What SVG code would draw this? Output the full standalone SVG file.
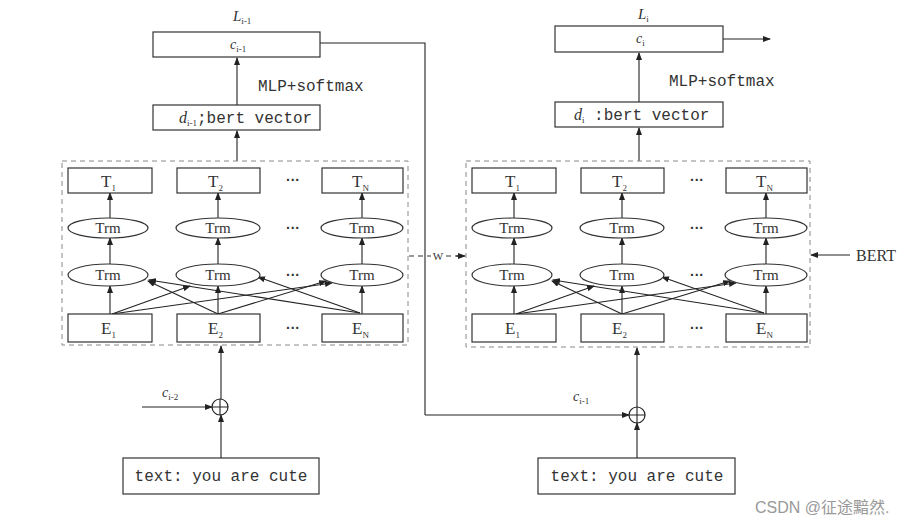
<svg xmlns="http://www.w3.org/2000/svg" width="920" height="525" viewBox="0 0 920 525">
<style>
.box{fill:#fff;stroke:#333;stroke-width:1.2}
.dash{fill:none;stroke:#888;stroke-width:1;stroke-dasharray:5,4}
.ell{fill:#fff;stroke:#333;stroke-width:1.2}
.ln{fill:none;stroke:#222;stroke-width:1.1}
.ar{fill:none;stroke:#222;stroke-width:1.1;marker-end:url(#ah)}
.ser{font-family:"Liberation Serif",serif;fill:#333}
.mono{font-family:"Liberation Mono",monospace;fill:#333}
.big{font-size:17px}
.trm{font-size:15px}
.sub{font-size:9px}
.it{font-style:italic}
.dots{font-family:"Liberation Sans",sans-serif;font-size:14px;font-weight:bold;fill:#333}
</style>
<defs>
<marker id="ah" markerUnits="userSpaceOnUse" markerWidth="8" markerHeight="6" refX="7" refY="3" orient="auto">
<path d="M0,0 L8,3 L0,6 z" fill="#222"/>
</marker>
</defs>
<rect width="920" height="525" fill="#fff"/>

<g id="connectors">
<!-- left panel -->
<path class="ar" d="M237,105 L237,58"/>
<path class="ar" d="M237,161 L237,131"/>
<path class="ln" d="M320,43 L425,43 L425,415"/>
<path class="ar" d="M425,415 L629,415"/>
<path class="ar" d="M142,407 L212,407"/>
<path class="ar" d="M221,458 L221,415"/>
<path class="ar" d="M221,399 L221,346"/>
<!-- left bert internals -->
<path class="ar" d="M110,314 L110,286"/>
<path class="ar" d="M218,314 L218,286"/>
<path class="ar" d="M362,314 L362,286"/>
<path class="ar" d="M110,264 L110,238"/>
<path class="ar" d="M218,264 L218,238"/>
<path class="ar" d="M362,264 L362,238"/>
<path class="ar" d="M110,218 L110,193"/>
<path class="ar" d="M218,218 L218,193"/>
<path class="ar" d="M362,218 L362,193"/>
<path class="ar" d="M112,314 L190,286"/>
<path class="ar" d="M112,314 L332,283"/>
<path class="ar" d="M218,314 L148,281"/>
<path class="ar" d="M218,314 L326,281"/>
<path class="ar" d="M360,313 L149,280"/>
<path class="ar" d="M360,313 L258,277"/>
<!-- right panel -->
<path class="ar" d="M639,102 L639,53"/>
<path class="ar" d="M639,161 L639,128"/>
<path class="ar" d="M723,39 L770,39"/>
<path class="ar" d="M637,458 L637,423"/>
<path class="ar" d="M637,407 L637,348"/>
<!-- right bert internals -->
<path class="ar" d="M514,314 L514,286"/>
<path class="ar" d="M622,314 L622,286"/>
<path class="ar" d="M766,314 L766,286"/>
<path class="ar" d="M514,264 L514,238"/>
<path class="ar" d="M622,264 L622,238"/>
<path class="ar" d="M766,264 L766,238"/>
<path class="ar" d="M514,218 L514,193"/>
<path class="ar" d="M622,218 L622,193"/>
<path class="ar" d="M766,218 L766,193"/>
<path class="ar" d="M516,314 L594,286"/>
<path class="ar" d="M516,314 L736,283"/>
<path class="ar" d="M622,314 L552,281"/>
<path class="ar" d="M622,314 L730,281"/>
<path class="ar" d="M764,313 L553,280"/>
<path class="ar" d="M764,313 L662,277"/>
<!-- W link -->
<path class="dash" d="M409,256 L431,256" style="stroke:#333"/>
<path class="dash" d="M446,256 L458,256" style="stroke:#333"/>
<path class="ar" d="M456,256 L465,256"/>
<!-- BERT pointer -->
<path class="ar" d="M850,255 L811,255"/>
</g>

<g id="left-L">
<text class="ser it" x="233" y="21" font-size="15">L<tspan class="sub" dy="3" font-style="normal">i-1</tspan></text>
</g>
<g id="left-c">
<rect class="box" x="153" y="32" width="167" height="25"/>
<text class="ser it" x="230" y="49" font-size="14">c<tspan class="sub" dy="3" font-style="normal">i-1</tspan></text>
</g>
<g id="left-mlp"><text class="mono" x="258" y="91" font-size="16">MLP+softmax</text></g>
<g id="left-d">
<rect class="box" x="153" y="105" width="167" height="25"/>
<text x="179" y="123"><tspan class="ser it" font-size="16">d</tspan><tspan class="ser sub" dy="3">i-1</tspan><tspan class="mono" dy="-3" font-size="16">;bert vector</tspan></text>
</g>

<g id="left-bert">
<rect class="dash" x="62" y="161" width="346" height="184"/>
</g>
<g id="left-T1"><rect class="box" x="68" y="168" width="84" height="25"/><text class="ser big" x="101" y="187">T<tspan class="sub" dy="4">1</tspan></text></g>
<g id="left-T2"><rect class="box" x="177" y="168" width="83" height="25"/><text class="ser big" x="208" y="187">T<tspan class="sub" dy="4">2</tspan></text></g>
<g id="left-TN"><rect class="box" x="322" y="168" width="81" height="25"/><text class="ser big" x="352" y="187">T<tspan class="sub" dy="4">N</tspan></text></g>
<g id="left-U1"><ellipse class="ell" cx="108" cy="228" rx="40" ry="10"/><text class="ser trm" x="108" y="233" text-anchor="middle">Trm</text></g>
<g id="left-U2"><ellipse class="ell" cx="218" cy="228" rx="42" ry="10"/><text class="ser trm" x="218" y="233" text-anchor="middle">Trm</text></g>
<g id="left-UN"><ellipse class="ell" cx="362" cy="228" rx="41" ry="10"/><text class="ser trm" x="362" y="233" text-anchor="middle">Trm</text></g>
<g id="left-L1"><ellipse class="ell" cx="108" cy="275" rx="40" ry="11"/><text class="ser trm" x="108" y="280" text-anchor="middle">Trm</text></g>
<g id="left-L2"><ellipse class="ell" cx="218" cy="275" rx="42" ry="11"/><text class="ser trm" x="218" y="280" text-anchor="middle">Trm</text></g>
<g id="left-LN"><ellipse class="ell" cx="362" cy="275" rx="41" ry="11"/><text class="ser trm" x="362" y="280" text-anchor="middle">Trm</text></g>
<g id="left-E1"><rect class="box" x="68" y="314" width="84" height="28"/><text class="ser big" x="101" y="334">E<tspan class="sub" dy="4">1</tspan></text></g>
<g id="left-E2"><rect class="box" x="177" y="314" width="83" height="28"/><text class="ser big" x="208" y="334">E<tspan class="sub" dy="4">2</tspan></text></g>
<g id="left-EN"><rect class="box" x="322" y="314" width="81" height="28"/><text class="ser big" x="352" y="334">E<tspan class="sub" dy="4">N</tspan></text></g>
<g id="left-dots">
<text class="dots" x="293" y="185" text-anchor="middle">···</text>
<text class="dots" x="293" y="233" text-anchor="middle">···</text>
<text class="dots" x="293" y="280" text-anchor="middle">···</text>
<text class="dots" x="293" y="333" text-anchor="middle">···</text>
</g>
<g id="left-plus">
<circle cx="220" cy="407" r="8" fill="none" stroke="#222" stroke-width="1.2"/>
<path class="ln" d="M212,407 L228,407 M220,399 L220,415"/>
</g>
<g id="left-cprev"><text class="ser it" x="162" y="397" font-size="14">c<tspan class="sub" dy="3" font-style="normal">i-2</tspan></text></g>
<g id="left-text">
<rect class="box" x="123" y="458" width="196" height="36"/>
<text class="mono" x="221" y="481" font-size="16" text-anchor="middle">text: you are cute</text>
</g>

<g id="w-label"><text class="ser" x="438" y="260" font-size="11" text-anchor="middle">W</text></g>

<g id="right-L">
<text class="ser it" x="638" y="19" font-size="15">L<tspan class="sub" dy="3" font-style="normal">i</tspan></text>
</g>
<g id="right-c">
<rect class="box" x="555" y="26" width="168" height="26"/>
<text class="ser it" x="636" y="43" font-size="14">c<tspan class="sub" dy="3" font-style="normal">i</tspan></text>
</g>
<g id="right-mlp"><text class="mono" x="669" y="86" font-size="16">MLP+softmax</text></g>
<g id="right-d">
<rect class="box" x="555" y="102" width="168" height="25"/>
<text x="574" y="120"><tspan class="ser it" font-size="16">d</tspan><tspan class="ser sub" dy="3">i</tspan><tspan class="mono" dy="-3" font-size="16"> :bert vector</tspan></text>
</g>

<g id="right-bert">
<rect class="dash" x="466" y="161" width="344" height="186"/>
</g>
<g id="right-T1"><rect class="box" x="472" y="168" width="84" height="25"/><text class="ser big" x="505" y="187">T<tspan class="sub" dy="4">1</tspan></text></g>
<g id="right-T2"><rect class="box" x="581" y="168" width="83" height="25"/><text class="ser big" x="612" y="187">T<tspan class="sub" dy="4">2</tspan></text></g>
<g id="right-TN"><rect class="box" x="726" y="168" width="81" height="25"/><text class="ser big" x="756" y="187">T<tspan class="sub" dy="4">N</tspan></text></g>
<g id="right-U1"><ellipse class="ell" cx="512" cy="228" rx="40" ry="10"/><text class="ser trm" x="512" y="233" text-anchor="middle">Trm</text></g>
<g id="right-U2"><ellipse class="ell" cx="622" cy="228" rx="42" ry="10"/><text class="ser trm" x="622" y="233" text-anchor="middle">Trm</text></g>
<g id="right-UN"><ellipse class="ell" cx="766" cy="228" rx="41" ry="10"/><text class="ser trm" x="766" y="233" text-anchor="middle">Trm</text></g>
<g id="right-L1"><ellipse class="ell" cx="512" cy="275" rx="40" ry="11"/><text class="ser trm" x="512" y="280" text-anchor="middle">Trm</text></g>
<g id="right-L2"><ellipse class="ell" cx="622" cy="275" rx="42" ry="11"/><text class="ser trm" x="622" y="280" text-anchor="middle">Trm</text></g>
<g id="right-LN"><ellipse class="ell" cx="766" cy="275" rx="41" ry="11"/><text class="ser trm" x="766" y="280" text-anchor="middle">Trm</text></g>
<g id="right-E1"><rect class="box" x="472" y="314" width="84" height="28"/><text class="ser big" x="505" y="334">E<tspan class="sub" dy="4">1</tspan></text></g>
<g id="right-E2"><rect class="box" x="581" y="314" width="83" height="28"/><text class="ser big" x="612" y="334">E<tspan class="sub" dy="4">2</tspan></text></g>
<g id="right-EN"><rect class="box" x="726" y="314" width="81" height="28"/><text class="ser big" x="756" y="334">E<tspan class="sub" dy="4">N</tspan></text></g>
<g id="right-dots">
<text class="dots" x="697" y="185" text-anchor="middle">···</text>
<text class="dots" x="697" y="233" text-anchor="middle">···</text>
<text class="dots" x="697" y="280" text-anchor="middle">···</text>
<text class="dots" x="697" y="333" text-anchor="middle">···</text>
</g>
<g id="right-plus">
<circle cx="637" cy="415" r="8" fill="none" stroke="#222" stroke-width="1.2"/>
<path class="ln" d="M629,415 L645,415 M637,407 L637,423"/>
</g>
<g id="right-cprev"><text class="ser it" x="573" y="401" font-size="14">c<tspan class="sub" dy="3" font-style="normal">i-1</tspan></text></g>
<g id="right-text">
<rect class="box" x="538" y="458" width="197" height="36"/>
<text class="mono" x="637" y="481" font-size="16" text-anchor="middle">text: you are cute</text>
</g>

<g id="bert-label"><text class="ser" x="856" y="261" font-size="16">BERT</text></g>

<text x="755" y="513" font-family="'Liberation Sans','Noto Sans CJK SC',sans-serif" font-size="16" fill="#999">CSDN @征途黯然.</text>
</svg>
